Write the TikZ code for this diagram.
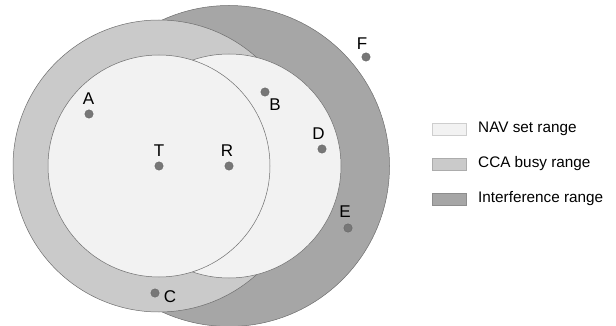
\documentclass[tikz,border=0pt]{standalone}
\usepackage{fontspec}
\setmainfont{Liberation Sans}
\definecolor{navfill}{HTML}{F2F2F2}
\definecolor{ccafill}{HTML}{CACACA}
\definecolor{intfill}{HTML}{A6A6A6}
\definecolor{rim}{HTML}{6E6E6E}
\definecolor{dotcol}{HTML}{777777}
\begin{document}
\begin{tikzpicture}[x=1pt,y=-1pt,
  zone/.style={draw=rim,line width=0.5pt},
  station/.style={circle,fill=dotcol,draw=dotcol!80!black,line width=0.3pt,inner sep=0pt,minimum size=8.5pt},
  tag/.style={font=\fontsize{17}{17}\selectfont,inner sep=0pt},
  keybox/.style={rectangle,minimum width=34pt,minimum height=12pt,inner sep=0pt,line width=0.6pt},
  keytext/.style={font=\fontsize{15.3}{15.3}\selectfont,anchor=west,inner sep=0pt}]
\useasboundingbox (0,0) rectangle (616,326);
% ranges
\fill[intfill,zone] (229,166) circle[radius=160.5pt];
\fill[ccafill,zone] (159,166) circle[radius=146pt];
\fill[navfill,zone] (229,166) circle[radius=112pt];
\fill[navfill,zone] (159,166) circle[radius=111pt];
% stations
\node[station] (T) at (159,166) {};
\node[station] (R) at (229,166) {};
\node[station] (A) at (89,114) {};
\node[station] (B) at (265,92) {};
\node[station] (C) at (155,293) {};
\node[station] (D) at (322,149) {};
\node[station] (E) at (348,228) {};
\node[station] (F) at (366,57) {};
\node[tag] (Tl) at (159,150.5) {T};
\node[tag] (Rl) at (227,151) {R};
\node[tag] (Al) at (88.5,98.7) {A};
\node[tag] (Bl) at (275,105) {B};
\node[tag] (Cl) at (170,297) {C};
\node[tag] (Dl) at (318.5,134) {D};
\node[tag] (El) at (345,212) {E};
\node[tag] (Fl) at (362,44) {F};
% legend
\node[keybox,fill=navfill,draw=navfill!85!black] (k1) at (449,129) {};
\node[keybox,fill=ccafill,draw=ccafill!85!black] (k2) at (449,164) {};
\node[keybox,fill=intfill,draw=intfill!85!black] (k3) at (449,199) {};
\node[keytext] (t1) at (478,129) {NAV set range};
\node[keytext] (t2) at (478,164) {CCA busy range};
\node[keytext] (t3) at (478,199) {Interference range};
\end{tikzpicture}
\end{document}
